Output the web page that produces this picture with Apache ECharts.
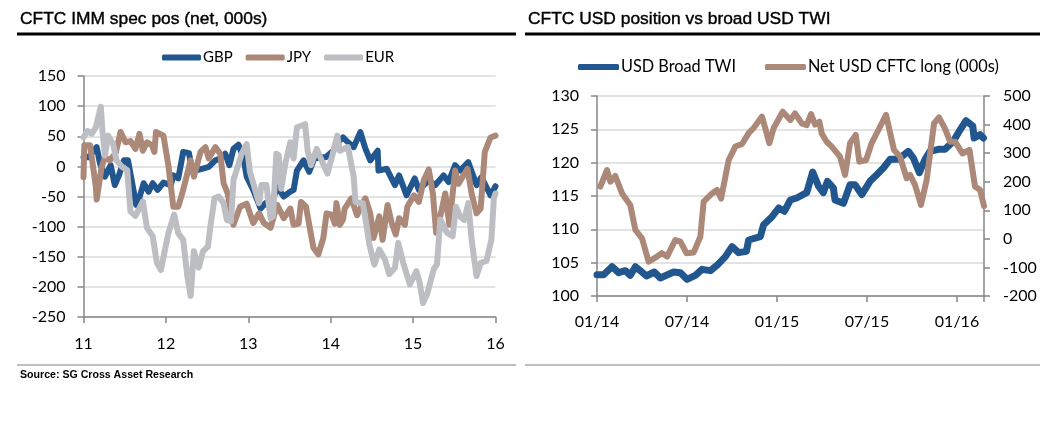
<!DOCTYPE html>
<html>
<head>
<meta charset="utf-8">
<style>html,body{margin:0;padding:0;background:#fff}#chart{width:1042px;height:424px}</style>
<script src="https://cdn.jsdelivr.net/npm/echarts@6/dist/echarts.min.js"></script>
</head>
<body>
<div id="chart"></div>
<script>
// left chart: [year, net position 000s]
const gbp = [[11,15],[11.06,15],[11.16,32],[11.2,5],[11.26,-17],[11.33,2],[11.38,-31],[11.43,-15],[11.49,10],[11.54,10],[11.64,-64],[11.67,-56],[11.73,-28],[11.79,-42],[11.84,-28],[11.9,-39],[11.97,-27],[12.06,-31],[12.09,-15],[12.15,-20],[12.21,24],[12.28,22],[12.32,-9],[12.38,-6],[12.44,-4],[12.52,-1],[12.6,10],[12.66,13],[12.72,21],[12.77,2],[12.82,29],[12.88,36],[12.94,15],[12.98,-17],[13.06,-39],[13.15,-70],[13.21,-61],[13.27,-67],[13.35,-34],[13.43,-50],[13.51,-42],[13.55,-39],[13.59,-7],[13.67,10],[13.74,-9],[13.8,13],[13.89,15],[13.94,15],[14.03,26],[14.09,40],[14.15,48],[14.21,40],[14.28,32],[14.36,57],[14.42,30],[14.48,10],[14.57,26],[14.58,-7],[14.68,-4],[14.78,-31],[14.83,-15],[14.92,-48],[15.02,-20],[15.07,-39],[15.19,-23],[15.27,-31],[15.37,-15],[15.43,-26],[15.51,2],[15.57,-7],[15.67,7],[15.77,-31],[15.83,-18],[15.94,-48],[16,-33]];
const jpy = [[11,-18],[11.01,35],[11.08,35],[11.15,-34],[11.16,-55],[11.22,-1],[11.26,15],[11.32,10],[11.39,22],[11.45,57],[11.51,40],[11.57,42],[11.63,29],[11.68,54],[11.72,26],[11.77,40],[11.83,35],[11.86,24],[11.88,57],[11.97,51],[12.03,2],[12.09,-67],[12.15,-67],[12.21,-39],[12.3,10],[12.34,-17],[12.42,24],[12.48,32],[12.52,13],[12.6,32],[12.66,21],[12.7,-28],[12.75,-45],[12.78,-70],[12.82,-97],[12.9,-67],[12.98,-62],[13.06,-94],[13.13,-78],[13.19,-94],[13.27,-102],[13.35,-64],[13.43,-86],[13.51,-70],[13.55,-97],[13.61,-95],[13.64,-59],[13.7,-67],[13.79,-135],[13.85,-146],[13.91,-119],[13.95,-78],[14.01,-80],[14.05,-95],[14.07,-61],[14.11,-97],[14.15,-88],[14.17,-70],[14.25,-53],[14.32,-81],[14.42,-53],[14.48,-78],[14.52,-119],[14.59,-83],[14.63,-122],[14.69,-64],[14.74,-94],[14.79,-113],[14.83,-86],[14.9,-97],[14.93,-67],[15.01,-48],[15.07,-59],[15.13,-23],[15.19,-5],[15.24,-45],[15.28,-110],[15.33,-83],[15.39,-45],[15.44,-97],[15.51,-7],[15.55,-29],[15.66,-4],[15.71,-45],[15.77,-78],[15.82,-70],[15.87,24],[15.94,48],[16,51]];
const eur = [[11,48],[11.05,59],[11.1,54],[11.15,65],[11.21,99],[11.23,59],[11.26,18],[11.3,51],[11.36,37],[11.4,10],[11.47,-1],[11.53,-6],[11.57,-75],[11.63,-82],[11.72,-58],[11.77,-102],[11.84,-116],[11.89,-160],[11.94,-172],[11.98,-144],[12.03,-111],[12.1,-80],[12.15,-111],[12.21,-122],[12.26,-182],[12.3,-215],[12.34,-141],[12.4,-168],[12.45,-141],[12.51,-133],[12.54,-100],[12.59,-53],[12.64,-50],[12.7,-61],[12.74,-89],[12.79,-91],[12.82,-23],[12.87,-1],[12.92,21],[12.98,37],[13.02,-9],[13.06,-28],[13.13,-61],[13.16,-31],[13.22,-31],[13.27,-86],[13.3,-83],[13.34,21],[13.37,18],[13.4,-37],[13.45,5],[13.51,40],[13.55,13],[13.59,65],[13.69,70],[13.72,26],[13.76,2],[13.83,29],[13.88,13],[13.96,-12],[14.01,13],[14.08,51],[14.11,26],[14.21,32],[14.28,-18],[14.3,-59],[14.39,-61],[14.43,-94],[14.47,-130],[14.53,-163],[14.59,-138],[14.66,-155],[14.71,-179],[14.78,-168],[14.82,-127],[14.88,-160],[14.96,-196],[15.04,-174],[15.08,-193],[15.12,-227],[15.17,-212],[15.25,-171],[15.29,-162],[15.33,-88],[15.41,-110],[15.48,-116],[15.52,-67],[15.57,-83],[15.62,-89],[15.67,-61],[15.71,-122],[15.77,-182],[15.82,-160],[15.89,-157],[15.95,-122],[15.98,-53],[16,-45]];

// right chart: [months since 01/14, value]
const twi = [[0,103.2],[0.44,103.2],[1,104.4],[1.44,103.5],[1.89,103.8],[2.22,103.1],[2.56,104.4],[2.89,103.8],[3.29,103],[3.82,103.6],[4.22,102.7],[5.11,103.6],[5.56,103.5],[6,102.5],[6.56,103.1],[7,104],[7.56,103.8],[8,104.6],[8.56,105.9],[9,107.4],[9.44,106.5],[9.96,106.7],[10.11,108.4],[10.89,108.9],[11.11,110.7],[11.67,111.9],[12.11,113.2],[12.49,112.7],[12.89,114.4],[13.31,114.7],[13.98,115.5],[14.38,118.6],[14.76,116.5],[15.09,115.5],[15.36,117.2],[15.76,116.2],[15.87,114.4],[16.43,113.9],[16.87,116.7],[17.2,116.7],[17.65,115.2],[18.2,117.2],[18.65,118.2],[19.09,119.2],[19.54,120.5],[20.09,120.5],[20.76,121.7],[21.09,120.7],[21.49,118.5],[21.87,120.5],[22.2,121.7],[22.76,122],[23.2,122],[23.76,123.2],[24.09,124.5],[24.6,126.3],[25.05,125.5],[25.14,123.7],[25.54,124.2],[25.76,123.7]];
const netUsd = [[0.22,183],[0.67,241],[0.89,200],[1.22,220],[1.67,159],[2.22,118],[2.56,31],[3,2],[3.44,-80],[4,-62],[4.33,-50],[4.67,-62],[5.22,-4],[5.56,-10],[5.96,-50],[6.44,-48],[6.89,8],[7.11,130],[7.67,159],[8,171],[8.27,141],[8.78,276],[9.22,323],[9.67,332],[10.11,370],[10.44,388],[11,428],[11.49,335],[11.78,388],[12.38,445],[12.89,416],[13.2,439],[13.65,404],[13.98,398],[14.27,437],[14.54,400],[14.83,410],[14.98,369],[15.31,340],[15.65,323],[16.2,288],[16.54,224],[16.87,335],[17.25,364],[17.49,270],[17.94,276],[18.31,335],[18.76,381],[19.27,434],[19.8,311],[20.2,288],[20.65,212],[20.87,224],[21.2,189],[21.6,119],[21.98,207],[22.47,404],[22.8,425],[23.2,386],[23.54,340],[23.87,340],[24.36,299],[24.83,311],[25.2,183],[25.54,171],[25.8,115]];
const monthLabels = ['01/14', '07/14', '01/15', '07/15', '01/16'];

const BLUE = '#22568f', BROWN = '#ab8878', GREY = '#bdbec3';
const axisFont = {fontFamily: 'Lato', fontSize: 16, color: '#000'};
const axisLine = {show: true, onZero: false, lineStyle: {color: '#868686', width: 1.5}};
const axisTick = {show: true, length: 6, lineStyle: {color: '#868686', width: 1.5}};
const grids = {color: '#e3e3e3', width: 2};
const titleFont = {fontFamily: 'Liberation Sans', fontSize: 17.4, fontWeight: 'normal', color: '#000', textBorderColor: '#000', textBorderWidth: 0.4};

function lineSeries(name, data, color, width, xi, yi) {
    return {
        name, data, type: 'line', xAxisIndex: xi, yAxisIndex: yi,
        showSymbol: false, smooth: false, animation: false,
        lineStyle: {color, width, cap: 'round', join: 'round'},
        itemStyle: {color}
    };
}
function rule(x1, x2, y, color, w) {
    return {type: 'line', shape: {x1, y1: y, x2, y2: y}, style: {stroke: color, lineWidth: w}};
}

const chart = echarts.init(document.getElementById('chart'), null, {renderer: 'canvas'});
chart.setOption({
    animation: false,
    backgroundColor: '#fff',
    title: [
        {text: 'CFTC IMM spec pos (net, 000s)', left: 20, top: 11, padding: 0, textStyle: titleFont},
        {text: 'CFTC USD position vs broad USD TWI', left: 528, top: 11, padding: 0, textStyle: titleFont},
        {text: 'Source: SG Cross Asset Research', left: 20, top: 370, padding: 0, textStyle: {fontFamily: 'Liberation Sans', fontSize: 10.6, fontWeight: 'bold', color: '#000'}}
    ],
    legend: [
        {data: ['GBP', 'JPY', 'EUR'], left: 162, top: 50, padding: 0, itemWidth: 39, itemHeight: 6, itemGap: 13, icon: 'roundRect',
            textStyle: {fontFamily: 'Lato', fontSize: 15, color: '#000', padding: [0, 0, 0, -3]}},
        {data: ['USD Broad TWI', 'Net USD CFTC long (000s)'], left: 578, top: 59, padding: 0, itemWidth: 41, itemHeight: 6, itemGap: 29, icon: 'roundRect',
            textStyle: {fontFamily: 'Lato', fontSize: 16.3, color: '#000', padding: [0, 0, 0, -3]}}
    ],
    grid: [
        {left: 83.5, top: 76, width: 412, height: 241},
        {left: 597, top: 96, width: 387, height: 200}
    ],
    xAxis: [
        {type: 'value', gridIndex: 0, min: 11, max: 16, interval: 1, splitLine: {show: false}, axisLine, axisTick,
            axisLabel: {...axisFont, margin: 19, showMinLabel: true, showMaxLabel: true}},
        {type: 'value', gridIndex: 1, min: 0, max: 25.8, interval: 6, splitLine: {show: false}, axisLine, axisTick,
            axisLabel: {...axisFont, margin: 18, formatter: v => monthLabels[v / 6] || ''}}
    ],
    yAxis: [
        {type: 'value', gridIndex: 0, min: -250, max: 150, interval: 50, axisLine, axisTick, splitLine: {lineStyle: grids}, axisLabel: {...axisFont, margin: 18}},
        {type: 'value', gridIndex: 1, min: 100, max: 130, interval: 5, axisLine, axisTick, splitLine: {lineStyle: grids}, axisLabel: {...axisFont, margin: 18}},
        {type: 'value', gridIndex: 1, position: 'right', min: -200, max: 500, interval: 100, axisLine, axisTick, splitLine: {show: false}, axisLabel: {...axisFont, margin: 19}}
    ],
    series: [
        lineSeries('GBP', gbp, BLUE, 6, 0, 0),
        lineSeries('JPY', jpy, BROWN, 6, 0, 0),
        lineSeries('EUR', eur, GREY, 6, 0, 0),
        lineSeries('USD Broad TWI', twi, BLUE, 7, 1, 1),
        lineSeries('Net USD CFTC long (000s)', netUsd, BROWN, 6, 1, 2)
    ],
    graphic: [
        rule(17, 516, 34, '#000', 3),
        rule(525, 1040, 34, '#000', 3),
        rule(17, 516, 365, '#808080', 1),
        rule(525, 1040, 365, '#808080', 1)
    ]
});
</script>
</body>
</html>
